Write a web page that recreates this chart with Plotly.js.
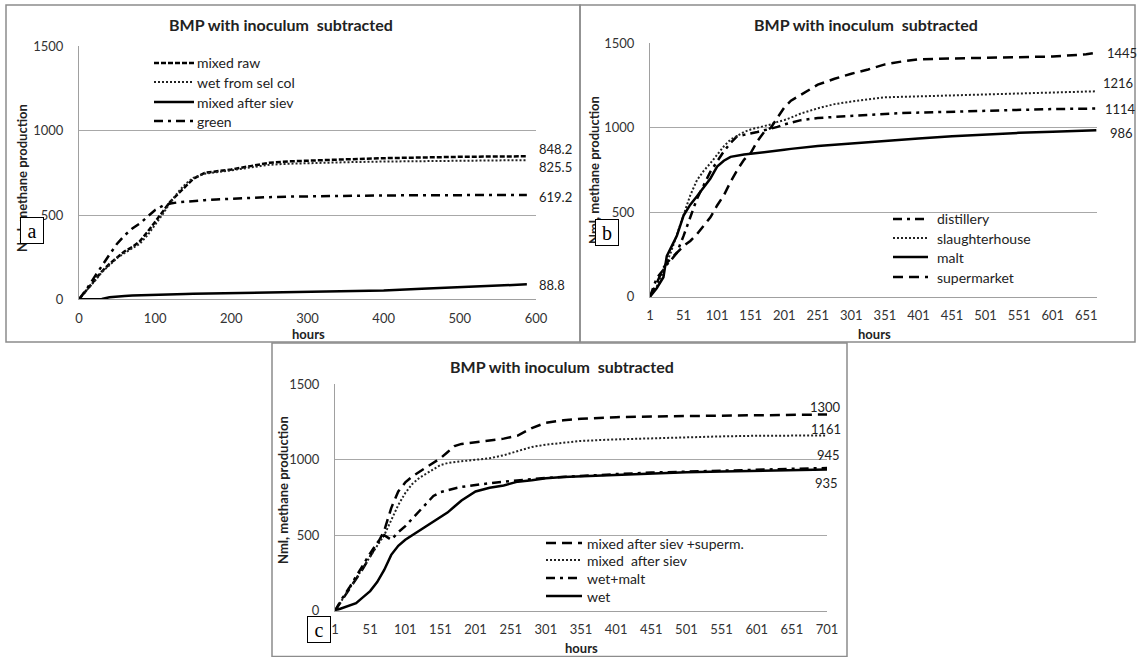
<!DOCTYPE html>
<html>
<head>
<meta charset="utf-8">
<script src="https://cdn.plot.ly/plotly-3.0.1.min.js"></script>
<style>html,body{margin:0;padding:0;background:#fff;}#chart{width:1140px;height:657px;}</style>
</head>
<body>
<div id="chart"></div>
<script>
// ---------- Panel a ----------
const hoursA = [0,10,20,30,40,50,60,70,80,90,100,110,120,130,140,150,165,180,200,225,250,275,300,350,400,450,500,550,588];
const aMixedRaw = [0,55,110,165,210,250,285,310,345,400,460,520,580,625,670,715,750,758,770,790,810,818,823,830,837,842,845,847,848.2];
const aWetSelCol = [0,50,105,160,205,245,275,300,330,380,440,505,575,635,685,720,745,752,765,782,798,804,808,813,817,820,823,825,825.5];
const aMixedSiev = [0,0,0,2,12,17,20,22,24,26,28,29,30,31,32,33,34,35,37,39,41,43,44,46,52,62,73,83,88.8];
const aGreen = [0,60,130,200,265,330,380,420,450,490,530,555,568,575,580,584,588,592,597,602,606,609,611,614,616,617,618,619,619.2];
const namesA = ["mixed raw","wet from sel col","mixed after siev","green"];

// ---------- Panel b ----------
const hoursB = [1,11,21,26,31,41,51,61,71,81,91,101,111,121,131,141,151,161,171,181,191,201,211,226,251,276,301,326,351,376,401,451,501,551,601,651,666];
const bDistillery = [0,110,160,190,210,260,360,470,580,660,740,800,860,910,950,958,965,975,985,995,1005,1020,1030,1045,1058,1065,1070,1075,1082,1087,1090,1097,1103,1108,1111,1113,1114];
const bSlaughter = [0,60,150,210,250,370,490,600,690,745,790,840,890,930,955,975,990,1000,1008,1020,1035,1045,1060,1085,1115,1140,1155,1168,1180,1183,1186,1192,1198,1202,1206,1212,1216];
const bMalt = [0,50,115,240,280,360,480,545,595,645,700,770,805,828,836,842,846,850,855,860,865,870,875,882,892,900,908,915,922,929,936,950,962,970,977,983,986];
const bSupermarket = [0,80,170,200,220,260,300,330,370,420,470,540,600,680,750,810,850,920,975,1000,1060,1120,1160,1195,1255,1290,1320,1345,1375,1392,1405,1410,1415,1418,1422,1435,1445];
const namesB = ["distillery","slaughterhouse","malt","supermarket"];

// ---------- Panel c ----------
const hoursC = [1,11,21,31,41,51,61,71,81,91,101,111,121,131,141,151,161,171,181,201,221,241,261,281,301,326,351,401,451,501,551,601,651,701];
const cSievSuperm = [0,70,140,205,280,360,440,530,680,790,850,890,920,945,975,1010,1050,1090,1105,1115,1125,1140,1160,1210,1245,1262,1272,1282,1287,1290,1293,1295,1297,1300];
const cSiev = [0,70,145,210,285,360,430,500,600,700,780,840,880,910,940,965,978,985,990,1000,1010,1030,1060,1085,1100,1115,1125,1135,1142,1150,1155,1159,1160,1161];
const cWetMalt = [0,80,150,230,300,380,450,500,470,520,560,610,660,710,760,785,800,810,820,835,845,855,865,872,880,887,893,905,915,922,928,935,940,945];
const cWet = [0,15,35,50,90,130,190,270,370,430,470,500,530,560,585,620,650,690,730,790,815,830,855,865,878,885,890,900,910,917,923,928,932,935];
const namesC = ["mixed after siev +superm.","mixed  after siev","wet+malt","wet"];

const tickA = [0,100,200,300,400,500,600];
const tickBC = [1,51,101,151,201,251,301,351,401,451,501,551,601,651,701];
const tickY = [0,500,1000,1500];
const chartTitle = "BMP with inoculum  subtracted";
const yTitle = "Nml, methane production";
const xTitle = "hours";

// ---------- helpers ----------
const W = 1140, H = 657;
const PX = p => p / W;
const PY = p => 1 - p / H;
const FONT = "Lato, 'Open Sans', sans-serif";

const STY = {
  shortDash: {dash: '5px,2px', width: 2.5, color: '#000'},
  dot: {dash: '2px,2px', width: 2, color: '#222'},
  solid: {dash: 'solid', width: 2.5, color: '#000'},
  dashDot: {dash: '9px,5px,3px,5px', width: 2.5, color: '#000'},
  longDash: {dash: '10px,6px', width: 2.5, color: '#000'}
};

function tr(x, y, name, xa, ya, sty) {
  return {x: x, y: y, name: name, type: 'scatter', mode: 'lines', showlegend: false,
    xaxis: xa, yaxis: ya, line: {color: sty.color, width: sty.width, dash: sty.dash}};
}

const stylesA = [STY.shortDash, STY.dot, STY.solid, STY.dashDot];
const stylesB = [STY.dashDot, STY.dot, STY.solid, STY.longDash];
const stylesC = [STY.longDash, STY.dot, STY.dashDot, STY.solid];

const data = [
  tr(hoursA, aMixedRaw, namesA[0], 'x', 'y', stylesA[0]),
  tr(hoursA, aWetSelCol, namesA[1], 'x', 'y', stylesA[1]),
  tr(hoursA, aMixedSiev, namesA[2], 'x', 'y', stylesA[2]),
  tr(hoursA, aGreen, namesA[3], 'x', 'y', stylesA[3]),
  tr(hoursB, bDistillery, namesB[0], 'x2', 'y2', stylesB[0]),
  tr(hoursB, bSlaughter, namesB[1], 'x2', 'y2', stylesB[1]),
  tr(hoursB, bMalt, namesB[2], 'x2', 'y2', stylesB[2]),
  tr(hoursB, bSupermarket, namesB[3], 'x2', 'y2', stylesB[3]),
  tr(hoursC, cSievSuperm, namesC[0], 'x3', 'y3', stylesC[0]),
  tr(hoursC, cSiev, namesC[1], 'x3', 'y3', stylesC[1]),
  tr(hoursC, cWetMalt, namesC[2], 'x3', 'y3', stylesC[2]),
  tr(hoursC, cWet, namesC[3], 'x3', 'y3', stylesC[3])
];

const tickFont = {family: FONT, size: 13, color: '#333'};
function xax(dom, range, tv, anchor) {
  return {domain: dom, range: range, tickvals: tv, ticktext: tv.map(String), anchor: anchor,
    showgrid: false, zeroline: false, showline: true, linecolor: '#a0a0a0', linewidth: 1,
    ticks: '', tickfont: tickFont, ticklabelstandoff: 7, fixedrange: true};
}
function yax(dom, anchor) {
  return {domain: dom, range: [0, 1500], tickvals: tickY, ticktext: tickY.map(String), anchor: anchor,
    showgrid: true, gridcolor: '#a8a8a8', gridwidth: 1, zeroline: false, showline: true,
    linecolor: '#a0a0a0', linewidth: 1, ticks: '', tickfont: tickFont, ticklabelstandoff: 12, fixedrange: true};
}

const ann = [];
const shapes = [];
function txt(x, y, text, size, bold, extra) {
  ann.push(Object.assign({xref: 'paper', yref: 'paper', x: PX(x), y: PY(y), text: bold ? '<b>' + text + '</b>' : text,
    showarrow: false, font: {family: FONT, size: size, color: '#222'}, xanchor: 'center', yanchor: 'middle'}, extra || {}));
}

function frame(x0, y0, x1, y1) {
  shapes.push({type: 'rect', xref: 'paper', yref: 'paper', x0: PX(x0), x1: PX(x1), y0: PY(y1), y1: PY(y0),
    line: {color: '#8c8c8c', width: 1.5}, fillcolor: 'rgba(0,0,0,0)', layer: 'below'});
}
frame(6, 5, 580, 342);
frame(580, 5, 1135, 342);
frame(272, 343, 847, 656.5);

// titles
txt(281, 24, chartTitle, 16, true);
txt(866, 24, chartTitle, 16, true);
txt(562, 366, chartTitle, 16, true);
// x titles
txt(308, 334, xTitle, 13, true);
txt(874, 334, xTitle, 13, true);
txt(581, 648, xTitle, 13, true);
// y titles
txt(22, 178, yTitle, 13, true, {textangle: -90});
txt(594, 170, yTitle, 13, true, {textangle: -90});
txt(283, 490, yTitle, 13, true, {textangle: -90});

// legends (sample line + label)
function legend(names, styles, sx0, sx1, tx, rows, size) {
  names.forEach((n, i) => {
    const s = styles[i];
    shapes.push({type: 'line', xref: 'paper', yref: 'paper', x0: PX(sx0), x1: PX(sx1), y0: PY(rows[i]), y1: PY(rows[i]),
      line: {color: s.color, width: s.width, dash: s.dash}, layer: 'above'});
    ann.push({xref: 'paper', yref: 'paper', x: PX(tx), y: PY(rows[i]), text: n, showarrow: false,
      font: {family: FONT, size: size, color: '#222'}, xanchor: 'left', yanchor: 'middle'});
  });
}
legend(namesA, stylesA, 154, 194, 195, [63, 82, 102, 121], 14);
legend(namesB, stylesB, 893, 928, 935, [219, 238, 257, 277], 14);
legend(namesC, stylesC, 546, 582, 585, [543, 560, 578, 596], 14);

// end-value labels, anchored on the last data point of each series
function endLabel(xs, ys, xa, ya, xshift, yshift, anchor) {
  const i = xs.length - 1;
  ann.push({xref: xa, yref: ya, x: xs[i], y: ys[i], text: String(ys[i]), showarrow: false,
    font: {family: FONT, size: 13, color: '#222'}, xanchor: anchor || 'left', yanchor: 'middle',
    xshift: xshift, yshift: yshift});
}
endLabel(hoursA, aMixedRaw, 'x', 'y', 10, 7);
endLabel(hoursA, aWetSelCol, 'x', 'y', 10, -7);
endLabel(hoursA, aGreen, 'x', 'y', 10, -2);
endLabel(hoursA, aMixedSiev, 'x', 'y', 10, -1);
endLabel(hoursB, bSupermarket, 'x2', 'y2', 9, 0);
endLabel(hoursB, bSlaughter, 'x2', 'y2', 5, 8.5);
endLabel(hoursB, bDistillery, 'x2', 'y2', 7, 0);
endLabel(hoursB, bMalt, 'x2', 'y2', 12, -2.5);
endLabel(hoursC, cSievSuperm, 'x3', 'y3', 16, 7.7, 'right');
endLabel(hoursC, cSiev, 'x3', 'y3', 16, 6, 'right');
endLabel(hoursC, cWetMalt, 'x3', 'y3', 15, 13, 'right');
endLabel(hoursC, cWet, 'x3', 'y3', 13, -13, 'right');

// panel letter boxes (drawn last so they cover titles/labels)
function box(cx, cy, letter) {
  ann.push({xref: 'paper', yref: 'paper', x: PX(cx), y: PY(cy), text: letter, showarrow: false,
    font: {family: "'Liberation Serif', 'DejaVu Serif', serif", size: 20, color: '#000'},
    bgcolor: '#fff', bordercolor: '#000', borderwidth: 1, borderpad: 0, width: 22, height: 25,
    xanchor: 'center', yanchor: 'middle'});
}
box(32, 230, 'a');
box(607, 232, 'b');
box(318.5, 629, 'c');

const layout = {
  width: W, height: H, margin: {l: 0, r: 0, t: 0, b: 0},
  paper_bgcolor: '#fff', plot_bgcolor: 'rgba(0,0,0,0)',
  font: {family: FONT, color: '#222'},
  showlegend: false,
  xaxis: xax([PX(79), PX(536)], [0, 600], tickA, 'y'),
  yaxis: yax([PY(299.3), PY(46.4)], 'x'),
  xaxis2: xax([PX(650), PX(1097)], [1, 667], tickBC.slice(0, 14), 'y2'),
  yaxis2: yax([PY(296.7), PY(43.3)], 'x2'),
  xaxis3: xax([PX(335), PX(827)], [1, 701], tickBC, 'y3'),
  yaxis3: yax([PY(610.7), PY(384.3)], 'x3'),
  shapes: shapes,
  annotations: ann
};

Plotly.newPlot('chart', data, layout, {staticPlot: true, displayModeBar: false});
</script>
</body>
</html>
